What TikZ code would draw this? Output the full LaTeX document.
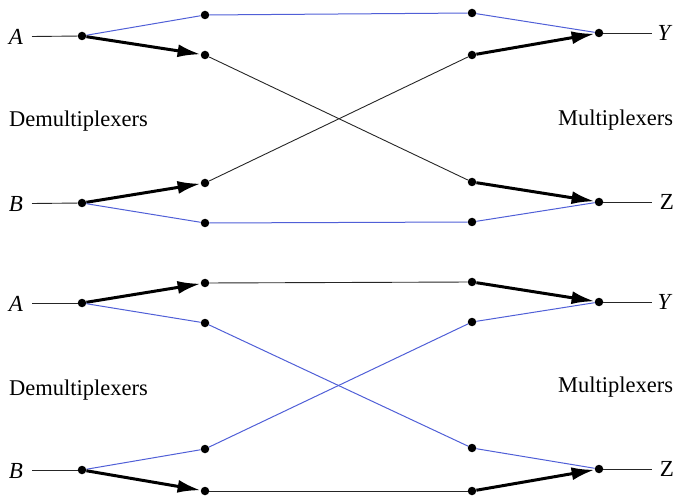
\documentclass[tikz,border=0pt]{standalone}
\usepackage{fontspec}
\setmainfont{Liberation Serif}
\usetikzlibrary{arrows.meta}
\definecolor{wireblue}{RGB}{80,95,215}
\tikzset{
  dot/.style={circle,fill=black,inner sep=0pt,minimum size=8.5pt},
  thin wire/.style={draw=black!85,line width=0.9pt},
  blue wire/.style={draw=wireblue,line width=1pt},
  thick wire/.style={draw=black,line width=3pt,-{Latex[length=23pt,width=13pt]}},
  io/.style={font=\fontsize{23}{26}\selectfont\itshape,inner sep=0pt},
  caption/.style={font=\fontsize{22.5}{26}\selectfont,inner sep=0pt}
}
\begin{document}
\begin{tikzpicture}[x=1pt,y=-1pt]
\useasboundingbox (0,0) rectangle (675,497);
% ---------- top diagram ----------
\node[dot] (d1) at (82,36) {};
\node[dot] (u1) at (205,15) {};
\node[dot] (u2) at (205,55) {};
\node[dot] (r1) at (472,13) {};
\node[dot] (r2) at (472,55) {};
\node[dot] (m1) at (599,33) {};
\node[dot] (d2) at (82,203) {};
\node[dot] (u3) at (205,183) {};
\node[dot] (u4) at (205,223) {};
\node[dot] (r3) at (472,182) {};
\node[dot] (r4) at (472,222) {};
\node[dot] (m2) at (599,202) {};
\node[io] (A1) at (16,36.5) {A};
\node[io] (B1) at (16,204) {B};
\node[io] (Y1) at (664,33) {Y};
\node[io,font=\fontsize{23}{26}\selectfont] (Z1) at (667,202) {Z};
\coordinate (A1e) at (32,36.5);
\coordinate (B1e) at (32,203.5);
\coordinate (Y1w) at (652,33);
\coordinate (Z1w) at (652,202);
\draw[thin wire] (A1e) -- (d1);
\draw[thin wire] (B1e) -- (d2);
\draw[thin wire] (m1) -- (Y1w);
\draw[thin wire] (m2) -- (Z1w);
\draw[blue wire] (d1) -- (u1);
\draw[thick wire] (d1) -- (u2);
\draw[blue wire] (u1) -- (r1);
\draw[thin wire] (u2) -- (r3);
\draw[thin wire] (u3) -- (r2);
\draw[blue wire] (r1) -- (m1);
\draw[thick wire] (r2) -- (m1);
\draw[thick wire] (d2) -- (u3);
\draw[blue wire] (d2) -- (u4);
\draw[blue wire] (u4) -- (r4);
\draw[thick wire] (r3) -- (m2);
\draw[blue wire] (r4) -- (m2);
\node[caption,anchor=base west] (dm1) at (9,127) {Demultiplexers};
\node[caption,anchor=base west] (mx1) at (558,126) {Multiplexers};
% ---------- bottom diagram ----------
\node[dot] (d3) at (82,303) {};
\node[dot] (v1) at (205,283) {};
\node[dot] (v2) at (205,323) {};
\node[dot] (s1) at (472,282) {};
\node[dot] (s2) at (472,322) {};
\node[dot] (m3) at (599,302) {};
\node[dot] (d4) at (82,470) {};
\node[dot] (v3) at (205,449) {};
\node[dot] (v4) at (205,491) {};
\node[dot] (s3) at (472,448) {};
\node[dot] (s4) at (472,491) {};
\node[dot] (m4) at (599,469) {};
\node[io] (A2) at (16,304) {A};
\node[io] (B2) at (16,471) {B};
\node[io] (Y2) at (664,302) {Y};
\node[io,font=\fontsize{23}{26}\selectfont] (Z2) at (667,469) {Z};
\coordinate (A2e) at (32,303);
\coordinate (B2e) at (32,470);
\coordinate (Y2w) at (652,302);
\coordinate (Z2w) at (652,469);
\draw[thin wire] (A2e) -- (d3);
\draw[thin wire] (B2e) -- (d4);
\draw[thin wire] (m3) -- (Y2w);
\draw[thin wire] (m4) -- (Z2w);
\draw[thick wire] (d3) -- (v1);
\draw[blue wire] (d3) -- (v2);
\draw[thin wire] (v1) -- (s1);
\draw[blue wire] (v2) -- (s3);
\draw[blue wire] (v3) -- (s2);
\draw[thick wire] (s1) -- (m3);
\draw[blue wire] (s2) -- (m3);
\draw[blue wire] (d4) -- (v3);
\draw[thick wire] (d4) -- (v4);
\draw[thin wire] (v4) -- (s4);
\draw[blue wire] (s3) -- (m4);
\draw[thick wire] (s4) -- (m4);
\node[caption,anchor=base west] (dm2) at (9,395) {Demultiplexers};
\node[caption,anchor=base west] (mx2) at (558,392) {Multiplexers};
\end{tikzpicture}
\end{document}
